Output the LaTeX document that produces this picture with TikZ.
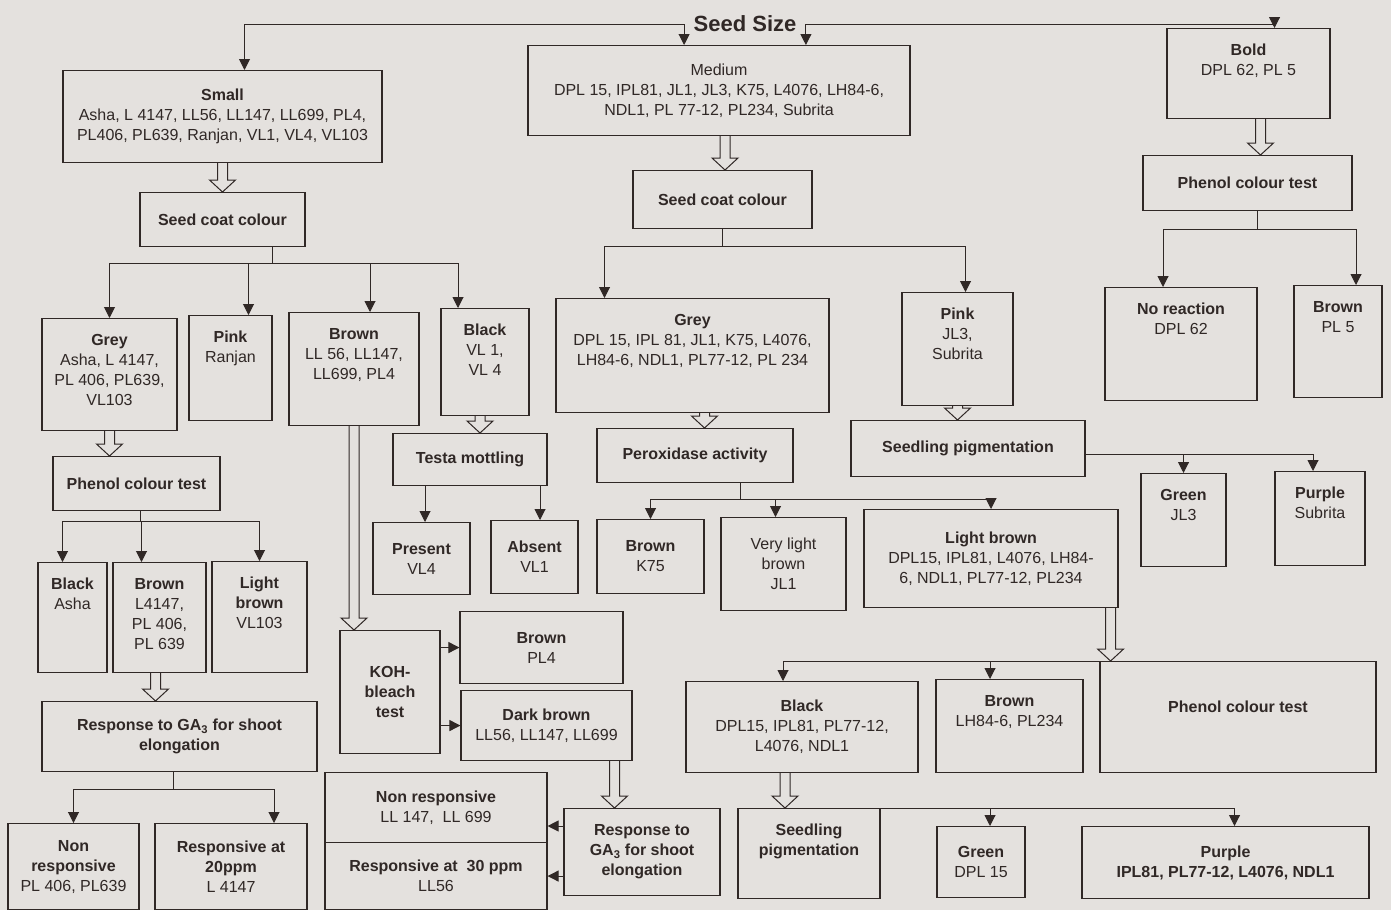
\documentclass[tikz,border=0pt]{standalone}
\usepackage{fontspec}
\setmainfont{Liberation Sans}
\usetikzlibrary{arrows.meta,calc}
\definecolor{paper}{RGB}{228,225,222}
\definecolor{ink}{RGB}{48,40,38}
\newcommand{\toptext}[1]{\begin{tabular}[t]{@{}c@{}}#1\end{tabular}}
\tikzset{
  tbox/.style={draw=ink, line width=1.1pt, fill=paper, text=ink, anchor=north,
    inner xsep=3pt, inner ysep=0pt, text height=27pt,
    font=\fontsize{16}{20}\selectfont},
  cbox/.style={draw=ink, line width=1.1pt, fill=paper, text=ink, anchor=north,
    align=center, inner sep=3pt, font=\fontsize{16}{20}\selectfont},
  stem/.style={draw=ink, line width=1pt},
  arr/.style={draw=ink, line width=1pt, -{Triangle[width=11pt,length=11pt]}},
  hollow/.style={draw=ink, line width=1pt, fill=paper, to path={
    let \p1=(\tikztostart), \p2=(\tikztotarget) in
    (\x1-5pt,\y1) -- (\x1-5pt,\y2+12pt) -- (\x1-13pt,\y2+12pt) -- (\x1,\y2)
    -- (\x1+13pt,\y2+12pt) -- (\x1+5pt,\y2+12pt) -- (\x1+5pt,\y1)}}
}
\begin{document}
\begin{tikzpicture}[x=1pt, y=1pt]
    \path[use as bounding box, fill=paper] (0,0) rectangle (1391,-910);
    % Seed size
    \node[font=\fontsize{22}{24}\selectfont\bfseries, text=ink] (title) at (745,-24) {Seed Size};
    \node[cbox, minimum width=319pt, minimum height=92pt] (small) at (222.5,-70)
    {\textbf{Small}\\Asha, L 4147, LL56, LL147, LL699, PL4,\\PL406, PL639, Ranjan, VL1, VL4, VL103};
    \node[cbox, minimum width=382pt, minimum height=90pt] (medium) at (719,-45)
    {Medium\\DPL 15, IPL81, JL1, JL3, K75, L4076, LH84-6,\\NDL1, PL 77-12, PL234, Subrita};
    \node[tbox, minimum width=163pt, text depth=63pt] (bold) at (1248.5,-28)
    {\toptext{\textbf{Bold}\\DPL 62, PL 5}};
    % First tests
    \node[cbox, minimum width=165pt, minimum height=54pt] (scc1) at (222.5,-192) {\textbf{Seed coat colour}};
    \node[cbox, minimum width=179pt, minimum height=58pt] (scc2) at (722.5,-170) {\textbf{Seed coat colour}};
    \node[cbox, minimum width=209pt, minimum height=55pt] (phenol1) at (1247.5,-155) {\textbf{Phenol colour test}};
    % Colour classes
    \node[tbox, minimum width=135pt, text depth=85pt] (grey1) at (109.5,-318)
    {\toptext{\textbf{Grey}\\Asha, L 4147,\\PL 406, PL639,\\VL103}};
    \node[tbox, minimum width=83pt, text depth=78pt] (pink1) at (230.5,-315)
    {\toptext{\textbf{Pink}\\Ranjan}};
    \node[tbox, minimum width=130pt, text depth=86pt] (brown1) at (354,-312)
    {\toptext{\textbf{Brown}\\LL 56, LL147,\\LL699, PL4}};
    \node[tbox, minimum width=88pt, text depth=80pt] (black1) at (485,-308)
    {\toptext{\textbf{Black}\\VL 1,\\VL 4}};
    \node[tbox, minimum width=273pt, text depth=87pt] (grey2) at (692.5,-298)
    {\toptext{\textbf{Grey}\\DPL 15, IPL 81, JL1, K75, L4076,\\LH84-6, NDL1, PL77-12, PL 234}};
    \node[tbox, minimum width=111pt, text depth=86pt] (pink2) at (957.5,-292)
    {\toptext{\textbf{Pink}\\JL3,\\Subrita}};
    \node[tbox, minimum width=152pt, text depth=86pt] (noreact) at (1181,-287)
    {\toptext{\textbf{No reaction}\\DPL 62}};
    \node[tbox, minimum width=88pt, text depth=85pt] (brownpl5) at (1338,-285)
    {\toptext{\textbf{Brown}\\PL 5}};
    % Second tests
    \node[cbox, minimum width=167pt, minimum height=54pt] (phenol2) at (136.5,-456) {\textbf{Phenol colour test}};
    \node[cbox, minimum width=154pt, minimum height=52pt] (testa) at (470,-433) {\textbf{Testa mottling}};
    \node[cbox, minimum width=196pt, minimum height=54pt] (perox) at (695,-428) {\textbf{Peroxidase activity}};
    \node[cbox, minimum width=234pt, minimum height=56pt] (seedpig1) at (968,-420) {\textbf{Seedling pigmentation}};
    \node[tbox, minimum width=85pt, text depth=66pt] (green1) at (1183.5,-473) {\toptext{\textbf{Green}\\JL3}};
    \node[tbox, minimum width=90pt, text depth=67pt] (purple1) at (1320,-471) {\toptext{\textbf{Purple}\\Subrita}};
    % Results
    \node[tbox, minimum width=69pt, text depth=83pt] (black2) at (72.5,-562) {\toptext{\textbf{Black}\\Asha}};
    \node[tbox, minimum width=93pt, text depth=83pt] (brown2) at (159.5,-562)
    {\toptext{\textbf{Brown}\\L4147,\\PL 406,\\PL 639}};
    \node[tbox, minimum width=95pt, text depth=84pt] (ltbrown1) at (259.5,-561)
    {\toptext{\textbf{Light}\\\textbf{brown}\\VL103}};
    \node[cbox, minimum width=97pt, minimum height=72pt] (present) at (421.5,-522) {\textbf{Present}\\VL4};
    \node[cbox, minimum width=87pt, minimum height=73pt] (absent) at (534.5,-520) {\textbf{Absent}\\VL1};
    \node[cbox, minimum width=107pt, minimum height=74pt] (brownk75) at (650.5,-519) {\textbf{Brown}\\K75};
    \node[cbox, minimum width=125pt, minimum height=93pt] (vlbrown) at (783.5,-517) {Very light\\brown\\JL1};
    \node[cbox, minimum width=254pt, minimum height=98pt] (ltbrown2) at (991,-509)
    {\textbf{Light brown}\\DPL15, IPL81, L4076, LH84-\\6, NDL1, PL77-12, PL234};
    % KOH and GA3
    \node[cbox, minimum width=100pt, minimum height=123pt] (koh) at (390,-630)
    {\textbf{KOH-}\\\textbf{bleach}\\\textbf{test}};
    \node[cbox, minimum width=163pt, minimum height=72pt] (brownpl4) at (541.5,-611) {\textbf{Brown}\\PL4};
    \node[cbox, minimum width=171pt, minimum height=70pt] (dkbrown) at (546.5,-690)
    {\textbf{Dark brown}\\LL56, LL147, LL699};
    \node[cbox, minimum width=275pt, minimum height=70pt] (resp1) at (179.5,-701)
    {\textbf{Response to GA\textsubscript{3} for shoot}\\\textbf{elongation}};
    \node[cbox, minimum width=131pt, minimum height=86pt] (nonresp1) at (73.5,-823)
    {\textbf{Non}\\\textbf{responsive}\\PL 406, PL639};
    \node[cbox, minimum width=152pt, minimum height=86pt] (resp20) at (231,-823)
    {\textbf{Responsive at}\\\textbf{20ppm}\\L 4147};
    \node[cbox, minimum width=222pt, minimum height=70pt] (nonresp2) at (436,-772)
    {\textbf{Non responsive}\\LL 147, \ LL 699};
    \node[cbox, minimum width=222pt, minimum height=67pt] (resp30) at (436,-842)
    {\textbf{Responsive at \ 30 ppm}\\LL56};
    \node[cbox, minimum width=156pt, minimum height=87pt] (resp2) at (642,-808)
    {\textbf{Response to}\\\textbf{GA\textsubscript{3} for shoot}\\\textbf{elongation}};
    % Light brown follow up
    \node[cbox, minimum width=232pt, minimum height=91pt] (black3) at (802,-681)
    {\textbf{Black}\\DPL15, IPL81, PL77-12,\\L4076, NDL1};
    \node[tbox, minimum width=147pt, text depth=66pt] (brown3) at (1009.5,-679)
    {\toptext{\textbf{Brown}\\LH84-6, PL234}};
    \node[tbox, minimum width=276pt, text height=51pt, text depth=60pt] (phenol3) at (1238,-661)
    {\toptext{\textbf{Phenol colour test}}};
    \node[tbox, minimum width=142pt, text depth=63pt] (seedpig2) at (809,-808)
    {\toptext{\textbf{Seedling}\\\textbf{pigmentation}}};
    \node[cbox, minimum width=88pt, minimum height=71pt] (green2) at (981,-826) {\textbf{Green}\\DPL 15};
    \node[cbox, minimum width=287pt, minimum height=72pt] (purple2) at (1225.5,-826)
    {\textbf{Purple}\\\textbf{IPL81, PL77-12, L4076, NDL1}};
    % Arrows from the title
    \draw[arr] ([xshift=-6pt]title.west) -| ([xshift=22pt]small.north);
    \draw[arr] ([xshift=-6pt]title.west) -- ([xshift=-6pt]title.west |- medium.north);
    \draw[arr] ([xshift=6pt]title.east) -- ([xshift=6pt]title.east |- medium.north);
    \draw[arr] ([xshift=6pt]title.east) -| ([xshift=26pt]bold.north);
    % Hollow arrows
    \draw[hollow] (small.south) to (scc1.north);
    \draw[hollow] ([xshift=6pt]medium.south) to (scc2.north);
    \draw[hollow] ([xshift=12pt]bold.south) to (phenol1.north);
    \draw[hollow] (grey1.south) to (phenol2.north);
    \draw[hollow] ([xshift=-5pt]black1.south) to (testa.north);
    \draw[hollow] ([xshift=12pt]grey2.south) to (perox.north);
    \draw[hollow] (pink2.south) to (seedpig1.north);
    \draw[hollow] (brown1.south) to (koh.north);
    \draw[hollow] ([xshift=-4pt]brown2.south) to (resp1.north);
    \draw[hollow] ([xshift=68pt]dkbrown.south) to (resp2.north);
    \draw[hollow] ([xshift=-8pt]ltbrown2.south east) to (phenol3.north west);
    \draw[hollow] ([xshift=-17pt]black3.south) to (seedpig2.north);
    % Branches
    \coordinate (b1) at ($(scc1.south)+(50,-16)$);
    \draw[stem] (scc1.south -| b1) -- (b1);
    \draw[arr] (b1) -| (grey1.north);
    \draw[arr] (b1) -| ([xshift=18pt]pink1.north);
    \draw[arr] (b1) -| ([xshift=16pt]brown1.north);
    \draw[arr] (b1) -| ([xshift=-27pt]black1.north);
    \coordinate (b2) at ($(scc2.south)+(0,-17)$);
    \draw[stem] (scc2.south) -- (b2);
    \draw[arr] (b2) -| ([xshift=-88pt]grey2.north);
    \draw[arr] (b2) -| ([xshift=8pt]pink2.north);
    \coordinate (b3) at ($(phenol1.south)+(10,-18)$);
    \draw[stem] (phenol1.south -| b3) -- (b3);
    \draw[arr] (b3) -| ([xshift=-18pt]noreact.north);
    \draw[arr] (b3) -| ([xshift=18pt]brownpl5.north);
    \draw[arr] ([yshift=-6pt]seedpig1.east) -| (green1.north);
    \draw[arr] ([yshift=-6pt]seedpig1.east) -| ([xshift=-7pt]purple1.north);
    \coordinate (b4) at ($(phenol2.south)+(4,-10)$);
    \draw[stem] (phenol2.south -| b4) -- (b4);
    \draw[arr] (b4) -| ([xshift=-10pt]black2.north);
    \draw[arr] (b4) -| ([xshift=-18pt]brown2.north);
    \draw[arr] (b4) -| (ltbrown1.north);
    \draw[arr] ([xshift=-45pt]testa.south) -- ([xshift=-45pt]testa.south |- present.north);
    \draw[arr] ([xshift=70pt]testa.south) -- ([xshift=70pt]testa.south |- absent.north);
    \coordinate (b5) at ($(perox.south)+(45,-16)$);
    \draw[stem] (perox.south -| b5) -- (b5);
    \draw[arr] (b5) -| (brownk75.north);
    \draw[arr] (b5) -| ([xshift=-8pt]vlbrown.north);
    \draw[arr] (b5) -| (ltbrown2.north);
    \draw[arr] (koh.east |- brownpl4.west) -- (brownpl4.west);
    \draw[arr] (koh.east |- dkbrown.west) -- (dkbrown.west);
    \coordinate (b6) at ($(resp1.south)+(-6,-17)$);
    \draw[stem] (resp1.south -| b6) -- (b6);
    \draw[arr] (b6) -| (nonresp1.north);
    \draw[arr] (b6) -| ([xshift=43pt]resp20.north);
    \draw[arr] ([yshift=-18pt]resp2.north west) -- ([yshift=-18pt]resp2.north west -| nonresp2.east);
    \draw[arr] (resp2.west |- resp30.east) -- (resp30.east);
    \draw[arr] (phenol3.north west) -| ([xshift=-19pt]black3.north);
    \draw[arr] (phenol3.north west) -| ([xshift=-19.5pt]brown3.north);
    \draw[arr] (seedpig2.north east) -| ([xshift=9pt]green2.north);
    \draw[arr] (seedpig2.north east) -| ([xshift=9pt]purple2.north);
\end{tikzpicture}
\end{document}
